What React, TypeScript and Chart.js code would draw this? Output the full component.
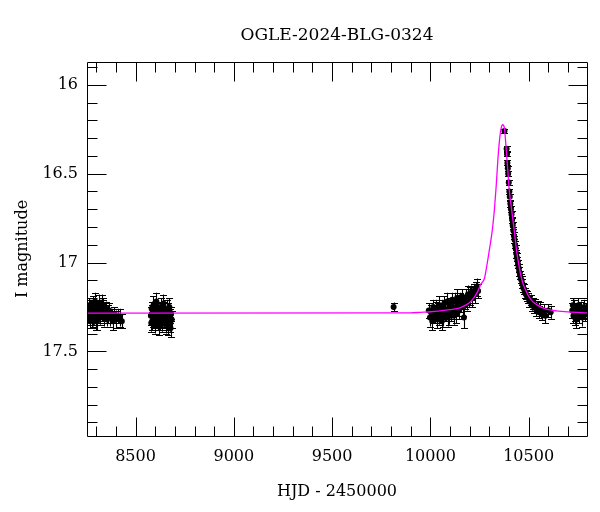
import { useEffect, useRef } from "react";
import { Chart, registerables } from "chart.js";

Chart.register(...registerables);

const TITLE = "OGLE-2024-BLG-0324";
const X_LABEL = "HJD - 2450000";
const Y_LABEL = "I magnitude";

const X_MIN = 8253;
const X_MAX = 10797;
const Y_MIN = 15.872;
const Y_MAX = 17.976;
const X_TICKS = [8500, 9000, 9500, 10000, 10500];
const Y_TICKS = [16, 16.5, 17, 17.5];
const X_MINOR_STEP = 100;
const Y_MINOR_STEP = 0.1;

// [HJD-2450000, I mag, error]
const season2018: [number, number, number][] = [
  [8262, 17.27, 0.04], [8264, 17.24, 0.04], [8266, 17.3, 0.05], [8268, 17.33, 0.04], [8270, 17.25, 0.04],
  [8273, 17.29, 0.04], [8275, 17.26, 0.05], [8277, 17.32, 0.05], [8280, 17.26, 0.04], [8283, 17.28, 0.04],
  [8285, 17.31, 0.05], [8286, 17.24, 0.05], [8289, 17.31, 0.04], [8292, 17.27, 0.04], [8294, 17.22, 0.05],
  [8295, 17.29, 0.05], [8298, 17.25, 0.04], [8300, 17.33, 0.05], [8301, 17.3, 0.04], [8304, 17.33, 0.05],
  [8307, 17.27, 0.04], [8310, 17.29, 0.04], [8313, 17.23, 0.05], [8316, 17.28, 0.04], [8318, 17.25, 0.04],
  [8320, 17.31, 0.04], [8324, 17.26, 0.05], [8328, 17.29, 0.04], [8330, 17.24, 0.06], [8332, 17.27, 0.06],
  [8336, 17.24, 0.04], [8338, 17.31, 0.05], [8340, 17.3, 0.04], [8345, 17.28, 0.05], [8350, 17.26, 0.04],
  [8355, 17.32, 0.04], [8360, 17.29, 0.05], [8366, 17.27, 0.04], [8372, 17.31, 0.05], [8378, 17.3, 0.04],
  [8385, 17.33, 0.05], [8392, 17.29, 0.04], [8400, 17.32, 0.05], [8410, 17.3, 0.04], [8420, 17.31, 0.05],
  [8430, 17.33, 0.04],
];

const season2019: [number, number, number][] = [
  [8578, 17.3, 0.05], [8580, 17.34, 0.05], [8582, 17.26, 0.04], [8584, 17.29, 0.05], [8585, 17.33, 0.05],
  [8588, 17.28, 0.04], [8590, 17.31, 0.05], [8591, 17.24, 0.05], [8594, 17.31, 0.04], [8596, 17.27, 0.05],
  [8597, 17.29, 0.05], [8600, 17.35, 0.05], [8601, 17.3, 0.04], [8603, 17.27, 0.04], [8605, 17.32, 0.05],
  [8606, 17.22, 0.05], [8609, 17.3, 0.04], [8611, 17.27, 0.05], [8612, 17.33, 0.05], [8615, 17.26, 0.04],
  [8617, 17.32, 0.05], [8618, 17.29, 0.05], [8621, 17.36, 0.05], [8622, 17.3, 0.04], [8624, 17.28, 0.04],
  [8626, 17.33, 0.05], [8627, 17.25, 0.05], [8630, 17.31, 0.04], [8632, 17.28, 0.05], [8633, 17.27, 0.05],
  [8636, 17.34, 0.05], [8638, 17.3, 0.04], [8639, 17.29, 0.04], [8642, 17.23, 0.05], [8643, 17.32, 0.05],
  [8645, 17.3, 0.04], [8647, 17.27, 0.05], [8648, 17.32, 0.05], [8651, 17.27, 0.04], [8653, 17.31, 0.05],
  [8654, 17.35, 0.05], [8657, 17.29, 0.04], [8659, 17.33, 0.05], [8660, 17.26, 0.05], [8663, 17.31, 0.04],
  [8665, 17.36, 0.05], [8666, 17.28, 0.05], [8669, 17.33, 0.04], [8671, 17.3, 0.05], [8672, 17.25, 0.05],
  [8675, 17.3, 0.04], [8677, 17.34, 0.05], [8678, 17.37, 0.05], [8681, 17.29, 0.04], [8684, 17.32, 0.05],
];

const season2022: [number, number, number][] = [[9813, 17.25, 0.025]];

const season2023: [number, number, number][] = [
  [9992, 17.27, 0.04], [9998, 17.31, 0.05], [10004, 17.28, 0.04], [10010, 17.33, 0.05], [10015, 17.25, 0.04],
  [10020, 17.29, 0.05], [10025, 17.3, 0.04], [10028, 17.27, 0.05], [10030, 17.26, 0.05], [10036, 17.32, 0.05],
  [10041, 17.27, 0.04], [10044, 17.3, 0.05], [10046, 17.24, 0.05], [10051, 17.3, 0.04], [10056, 17.28, 0.05],
  [10058, 17.33, 0.05], [10061, 17.25, 0.04], [10066, 17.31, 0.05], [10071, 17.23, 0.04], [10073, 17.28, 0.05],
  [10076, 17.27, 0.05], [10081, 17.29, 0.04], [10086, 17.22, 0.05], [10088, 17.31, 0.05], [10091, 17.26, 0.04],
  [10096, 17.3, 0.05], [10101, 17.24, 0.04], [10103, 17.28, 0.05], [10106, 17.27, 0.05], [10111, 17.21, 0.04],
  [10116, 17.25, 0.05], [10118, 17.3, 0.05], [10121, 17.28, 0.04], [10126, 17.22, 0.05], [10131, 17.26, 0.04],
  [10133, 17.29, 0.05], [10136, 17.2, 0.05], [10141, 17.24, 0.04], [10146, 17.27, 0.05], [10151, 17.21, 0.04],
  [10156, 17.23, 0.05], [10161, 17.19, 0.04], [10166, 17.25, 0.05], [10171, 17.31, 0.06], [10176, 17.22, 0.04],
  [10181, 17.2, 0.05], [10186, 17.23, 0.04], [10191, 17.18, 0.05], [10196, 17.21, 0.04], [10202, 17.19, 0.05],
  [10208, 17.17, 0.04], [10214, 17.2, 0.05], [10220, 17.16, 0.04], [10226, 17.18, 0.05], [10232, 17.15, 0.04],
  [10238, 17.14, 0.05], [10243, 17.16, 0.04],
];

const season2024: [number, number, number][] = [
  [10377, 16.26, 0.012], [10388, 16.36, 0.013], [10390, 16.39, 0.013], [10392, 16.44, 0.014], [10394, 16.47, 0.014],
  [10396, 16.5, 0.015], [10399, 16.55, 0.015], [10402, 16.6, 0.016], [10404, 16.63, 0.016], [10407, 16.67, 0.017],
  [10410, 16.7, 0.017], [10413, 16.73, 0.018], [10416, 16.76, 0.018], [10419, 16.79, 0.019], [10422, 16.82, 0.019],
  [10425, 16.85, 0.02], [10428, 16.87, 0.02], [10431, 16.9, 0.021], [10434, 16.92, 0.021], [10437, 16.95, 0.022],
  [10440, 16.97, 0.022], [10443, 16.99, 0.023], [10446, 17.01, 0.023], [10449, 17.03, 0.024], [10452, 17.05, 0.024],
  [10456, 17.07, 0.025], [10460, 17.09, 0.025], [10464, 17.1, 0.026], [10468, 17.12, 0.026], [10472, 17.14, 0.027],
  [10477, 17.15, 0.027], [10482, 17.17, 0.028], [10487, 17.18, 0.028], [10492, 17.19, 0.029], [10498, 17.2, 0.03],
  [10504, 17.22, 0.03], [10510, 17.21, 0.03], [10516, 17.24, 0.031], [10522, 17.23, 0.031], [10528, 17.25, 0.032],
  [10534, 17.24, 0.032], [10540, 17.27, 0.033], [10546, 17.25, 0.033], [10553, 17.28, 0.034], [10560, 17.26, 0.04],
  [10568, 17.29, 0.035], [10576, 17.27, 0.035], [10585, 17.3, 0.04], [10600, 17.27, 0.036], [10612, 17.28, 0.037],
];

const season2025: [number, number, number][] = [
  [10722, 17.27, 0.04], [10725, 17.24, 0.04], [10728, 17.3, 0.04], [10733, 17.25, 0.04], [10736, 17.31, 0.04],
  [10738, 17.29, 0.04], [10743, 17.32, 0.05], [10748, 17.27, 0.04], [10753, 17.24, 0.04], [10758, 17.3, 0.04],
  [10763, 17.28, 0.04], [10768, 17.26, 0.04], [10773, 17.31, 0.05], [10778, 17.28, 0.04], [10783, 17.25, 0.04],
  [10788, 17.29, 0.04], [10793, 17.27, 0.04],
];

const modelHjd = [
  8253, 9900, 9950, 10000, 10050, 10100, 10150, 10180, 10200, 10220, 10240, 10258, 10275, 10290, 10300, 10310,
  10317, 10326, 10335, 10343, 10352, 10360, 10368, 10377, 10385, 10394, 10402, 10411, 10420, 10428, 10436, 10445,
  10453, 10462, 10475, 10487, 10500, 10521, 10545, 10572, 10600, 10640, 10700, 10797,
];
const modelMag = [
  17.285, 17.283, 17.28, 17.277, 17.272, 17.265, 17.255, 17.24, 17.225, 17.2, 17.165, 17.12, 17.09, 17.0, 16.93, 16.86,
  16.8, 16.7, 16.57, 16.43, 16.31, 16.245, 16.225, 16.245, 16.35, 16.48, 16.6, 16.68, 16.76, 16.83, 16.91, 16.98,
  17.03, 17.08, 17.13, 17.16, 17.19, 17.22, 17.24, 17.255, 17.265, 17.272, 17.278, 17.283,
];

const observations = [...season2018, ...season2019, ...season2022, ...season2023, ...season2024, ...season2025];

const MAJOR_LEN = 19;
const MINOR_LEN = 10;
const CAP_HALF = 3.5;
const FONT = "'DejaVu Serif', serif";

const errorBarPlugin = {
  id: "errorBars",
  beforeDatasetsDraw(chart: any) {
    const { ctx, chartArea: a, scales } = chart;
    const x = scales.x;
    const y = scales.y;
    ctx.save();
    ctx.beginPath();
    ctx.rect(a.left, a.top, a.right - a.left, a.bottom - a.top);
    ctx.clip();
    ctx.strokeStyle = "#000";
    ctx.lineWidth = 1.1;
    ctx.beginPath();
    for (const [t, m, e] of observations) {
      const px = Math.round(x.getPixelForValue(t)) + 0.5;
      const y1 = y.getPixelForValue(m - e);
      const y2 = y.getPixelForValue(m + e);
      ctx.moveTo(px, y1);
      ctx.lineTo(px, y2);
      ctx.moveTo(px - CAP_HALF, Math.round(y1) + 0.5);
      ctx.lineTo(px + CAP_HALF, Math.round(y1) + 0.5);
      ctx.moveTo(px - CAP_HALF, Math.round(y2) + 0.5);
      ctx.lineTo(px + CAP_HALF, Math.round(y2) + 0.5);
    }
    ctx.stroke();
    ctx.restore();
  },
};

const framePlugin = {
  id: "frameTicks",
  afterDatasetsDraw(chart: any) {
    const { ctx, chartArea: a, scales } = chart;
    const x = scales.x;
    const y = scales.y;
    const L = Math.round(a.left) + 0.5;
    const R = Math.round(a.right) + 0.5;
    const T = Math.round(a.top) + 0.5;
    const B = Math.round(a.bottom) + 0.5;
    ctx.save();
    ctx.strokeStyle = "#000";
    ctx.lineWidth = 1;
    ctx.beginPath();
    for (let k = Math.ceil(X_MIN / X_MINOR_STEP); k * X_MINOR_STEP <= X_MAX; k++) {
      const v = k * X_MINOR_STEP;
      const px = Math.round(x.getPixelForValue(v)) + 0.5;
      const len = X_TICKS.includes(v) ? MAJOR_LEN : MINOR_LEN;
      ctx.moveTo(px, B);
      ctx.lineTo(px, B - len);
      ctx.moveTo(px, T);
      ctx.lineTo(px, T + len);
    }
    for (let k = Math.ceil(Y_MIN / Y_MINOR_STEP - 1e-6); k * Y_MINOR_STEP <= Y_MAX + 1e-6; k++) {
      const v = k * Y_MINOR_STEP;
      const py = Math.round(y.getPixelForValue(v)) + 0.5;
      const len = k % 5 === 0 ? MAJOR_LEN : MINOR_LEN;
      ctx.moveTo(L, py);
      ctx.lineTo(L + len, py);
      ctx.moveTo(R, py);
      ctx.lineTo(R - len, py);
    }
    ctx.rect(L, T, R - L, B - T);
    ctx.stroke();
    ctx.restore();
  },
};

export default function App() {
  const ref = useRef<HTMLCanvasElement | null>(null);

  useEffect(() => {
    if (!ref.current) return;
    const chart = new Chart(ref.current, {
      type: "scatter",
      data: {
        datasets: [
          {
            type: "line",
            label: "model",
            data: modelHjd.map((t, i) => ({ x: t, y: modelMag[i] })),
            borderColor: "#ff00ff",
            borderWidth: 1.3,
            pointRadius: 0,
            cubicInterpolationMode: "monotone",
            fill: false,
            order: 0,
          } as any,
          {
            label: "OGLE",
            data: observations.map(([t, m]) => ({ x: t, y: m })),
            backgroundColor: "#000",
            borderColor: "#000",
            borderWidth: 0,
            pointRadius: 3,
            order: 1,
          },
        ],
      },
      options: {
        responsive: false,
        animation: false,
        events: [],
        layout: { padding: { left: 0, right: 13, top: 0, bottom: 0 } },
        plugins: {
          legend: { display: false },
          tooltip: { enabled: false },
          title: {
            display: true,
            text: TITLE,
            fullSize: false,
            color: "#000",
            font: { family: FONT, size: 17, weight: "normal", lineHeight: 1.2 },
            padding: { top: 25, bottom: 16.6 },
          },
        },
        scales: {
          x: {
            type: "linear",
            min: X_MIN,
            max: X_MAX,
            grid: { display: false, drawTicks: false },
            border: { display: false },
            afterBuildTicks: (s: any) => {
              s.ticks = X_TICKS.map((v) => ({ value: v }));
            },
            afterFit: (s: any) => {
              s.height = 76;
            },
            ticks: {
              color: "#000",
              padding: 11,
              maxRotation: 0,
              autoSkip: false,
              font: { family: FONT, size: 16 },
              callback: (v: any) => String(v),
            },
            title: {
              display: true,
              text: X_LABEL,
              color: "#000",
              font: { family: FONT, size: 16, lineHeight: 1.2 },
              padding: { top: 0, bottom: 11 },
            },
          },
          y: {
            type: "linear",
            reverse: true,
            min: Y_MIN,
            max: Y_MAX,
            grid: { display: false, drawTicks: false },
            border: { display: false },
            afterBuildTicks: (s: any) => {
              s.ticks = Y_TICKS.map((v) => ({ value: v }));
            },
            afterFit: (s: any) => {
              s.width = 87;
            },
            ticks: {
              color: "#000",
              padding: 9,
              autoSkip: false,
              font: { family: FONT, size: 16 },
              callback: (v: any) => String(v),
            },
            title: {
              display: true,
              text: Y_LABEL,
              color: "#000",
              font: { family: FONT, size: 16, lineHeight: 1.2 },
              padding: { top: 13, bottom: 0 },
            },
          },
        },
      },
      plugins: [errorBarPlugin, framePlugin],
    });
    return () => chart.destroy();
  }, []);

  return (
    <div style={{ position: "absolute", left: 0, top: 0, width: 600, height: 512, background: "#fff" }}>
      <canvas ref={ref} width={600} height={512} style={{ display: "block" }} />
    </div>
  );
}
